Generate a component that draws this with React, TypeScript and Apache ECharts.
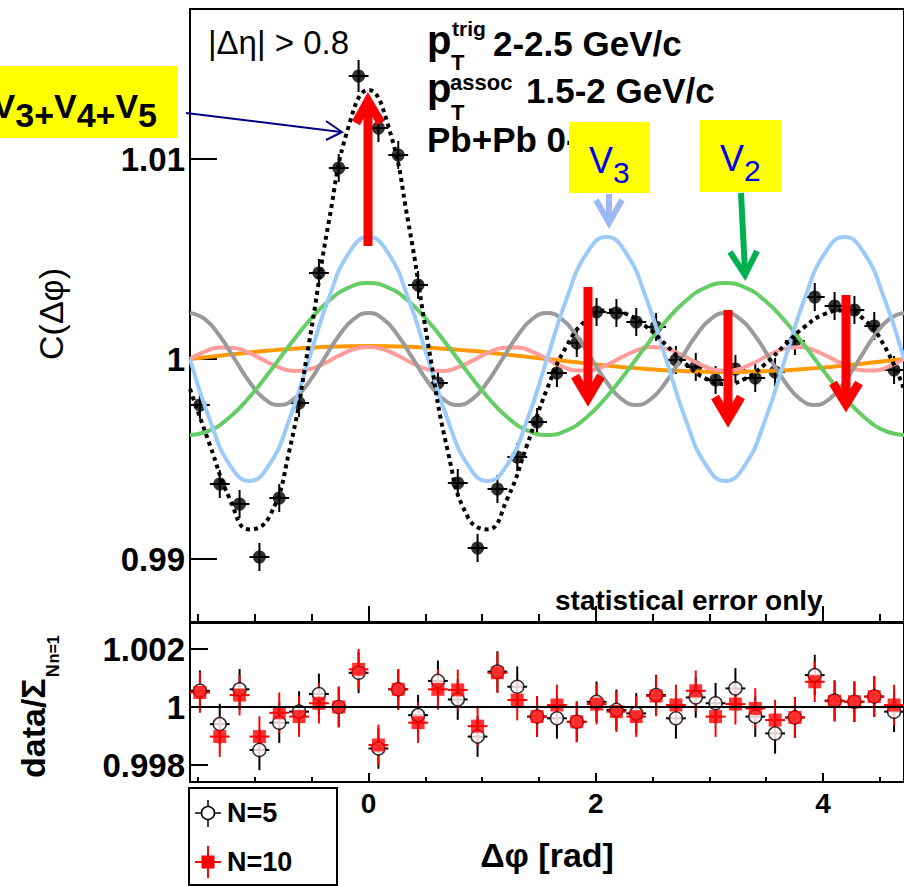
import React, { useEffect, useRef } from "react";
import * as echarts from "echarts";

const FF = '"Liberation Sans", Arial, Helvetica, sans-serif';

// x range (rad) and half bin width
const phiMin = -1.5708;
const phiMax = 4.7124;
const halfBin = 0.0873;

// bin centres (rad)
const binCenters = [
  -1.4835, -1.309, -1.1345, -0.9599, -0.7854, -0.6109, -0.4363, -0.2618, -0.0873,
  0.0873, 0.2618, 0.4363, 0.6109, 0.7854, 0.9599, 1.1345, 1.309, 1.4835,
  1.6581, 1.8326, 2.0071, 2.1817, 2.3562, 2.5307, 2.7053, 2.8798, 3.0543,
  3.2289, 3.4034, 3.5779, 3.7525, 3.927, 4.1015, 4.2761, 4.4506, 4.6251,
];

// C(dphi) data points
const corrData = [
  0.9977, 0.99375, 0.99275, 0.9901, 0.99305, 0.9978, 1.0043, 1.00955, 1.01415,
  1.01155, 1.0102, 1.0037, 0.9988, 0.9938, 0.99055, 0.9935, 0.9951, 0.99685,
  0.9993, 1.0008, 1.00235, 1.0023, 1.00185, 1.0016, 0.99995, 0.9996, 0.99895,
  0.9995, 0.99905, 0.99935, 1.0009, 1.0031, 1.00265, 1.00245, 1.00165, 0.99945,
];
const corrErr = [
  0.0007, 0.0007, 0.0007, 0.0007, 0.0007, 0.0007, 0.0007, 0.0007, 0.0008,
  0.0007, 0.0007, 0.0007, 0.0007, 0.0007, 0.0007, 0.0007, 0.0007, 0.0007,
  0.0007, 0.0007, 0.0007, 0.0007, 0.0007, 0.0007, 0.0007, 0.0007, 0.0007,
  0.0007, 0.0007, 0.0007, 0.0007, 0.0007, 0.0007, 0.0007, 0.0007, 0.0007,
];

// curve sample positions (rad), every 10 degrees from -90 to 270
const curvePhi = [
  -1.5708, -1.3963, -1.2217, -1.0472, -0.8727, -0.6981, -0.5236, -0.3491, -0.1745,
  0, 0.1745, 0.3491, 0.5236, 0.6981, 0.8727, 1.0472, 1.2217, 1.3963, 1.5708,
  1.7453, 1.9199, 2.0944, 2.2689, 2.4435, 2.618, 2.7925, 2.9671, 3.1416,
  3.3161, 3.4907, 3.6652, 3.8397, 4.0143, 4.1888, 4.3633, 4.5379, 4.7124,
];
// finer sample positions (rad), every 7.5 degrees from -90 to 270
const curvePhiFine = [
  -1.5708, -1.4399, -1.309, -1.1781, -1.0472, -0.9163, -0.7854, -0.6545, -0.5236, -0.3927,
  -0.2618, -0.1309, 0, 0.1309, 0.2618, 0.3927, 0.5236, 0.6545, 0.7854, 0.9163,
  1.0472, 1.1781, 1.309, 1.4399, 1.5708, 1.7017, 1.8326, 1.9635, 2.0944, 2.2253,
  2.3562, 2.4871, 2.618, 2.7489, 2.8798, 3.0107, 3.1416, 3.2725, 3.4034, 3.5343,
  3.6652, 3.7961, 3.927, 4.0579, 4.1888, 4.3197, 4.4506, 4.5815, 4.7124,
];

const fitCurve = [
  0.9985, 0.99571, 0.99302, 0.99148, 0.99211, 0.99538, 1.00079, 1.00687, 1.01164,
  1.01345, 1.01164, 1.00687, 1.00079, 0.99538, 0.99211, 0.99148, 0.99302, 0.99571, 0.9985,
  1.00067, 1.00196, 1.00243, 1.00225, 1.00162, 1.00071, 0.99975, 0.99902, 0.99875,
  0.99902, 0.99975, 1.00071, 1.00162, 1.00225, 1.00243, 1.00196, 1.00067, 0.9985,
];
const v1Curve = [
  1.0, 1.00011, 1.00022, 1.00033, 1.00042, 1.0005, 1.00056, 1.00061, 1.00064,
  1.00065, 1.00064, 1.00061, 1.00056, 1.0005, 1.00042, 1.00033, 1.00022, 1.00011, 1.0,
  0.99989, 0.99978, 0.99967, 0.99958, 0.9995, 0.99944, 0.99939, 0.99936, 0.99935,
  0.99936, 0.99939, 0.99944, 0.9995, 0.99958, 0.99967, 0.99978, 0.99989, 1.0,
];
const v2Curve = [
  0.9962, 0.99643, 0.99709, 0.9981, 0.99934, 1.00066, 1.0019, 1.00291, 1.00357,
  1.0038, 1.00357, 1.00291, 1.0019, 1.00066, 0.99934, 0.9981, 0.99709, 0.99643, 0.9962,
  0.99643, 0.99709, 0.9981, 0.99934, 1.00066, 1.0019, 1.00291, 1.00357, 1.0038,
  1.00357, 1.00291, 1.0019, 1.00066, 0.99934, 0.9981, 0.99709, 0.99643, 0.9962,
];
const v3Curve = [
  1.0, 0.99695, 0.99472, 0.9939, 0.99472, 0.99695, 1.0, 1.00305, 1.00528,
  1.0061, 1.00528, 1.00305, 1.0, 0.99695, 0.99472, 0.9939, 0.99472, 0.99695, 1.0,
  1.00305, 1.00528, 1.0061, 1.00528, 1.00305, 1.0, 0.99695, 0.99472, 0.9939,
  0.99472, 0.99695, 1.0, 1.00305, 1.00528, 1.0061, 1.00528, 1.00305, 1.0,
];
// v4 and v5 on the finer grid
const v4Curve = [
  1.0023, 1.00199, 1.00115, 1.0, 0.99885, 0.99801, 0.9977, 0.99801, 0.99885, 1.0, 1.00115, 1.00199,
  1.0023, 1.00199, 1.00115, 1.0, 0.99885, 0.99801, 0.9977, 0.99801, 0.99885, 1.0, 1.00115, 1.00199,
  1.0023, 1.00199, 1.00115, 1.0, 0.99885, 0.99801, 0.9977, 0.99801, 0.99885, 1.0, 1.00115, 1.00199,
  1.0023, 1.00199, 1.00115, 1.0, 0.99885, 0.99801, 0.9977, 0.99801, 0.99885, 1.0, 1.00115, 1.00199,
  1.0023,
];
const v5Curve = [
  1.0, 1.00037, 1.00058, 1.00055, 1.0003, 0.99992, 0.99958, 0.9994, 0.99948, 0.99977,
  1.00016, 1.00048, 1.0006, 1.00048, 1.00016, 0.99977, 0.99948, 0.9994, 0.99958, 0.99992,
  1.0003, 1.00055, 1.00058, 1.00037, 1.0, 0.99963, 0.99942, 0.99945, 0.9997, 1.00008,
  1.00042, 1.0006, 1.00052, 1.00023, 0.99984, 0.99952, 0.9994, 0.99952, 0.99984, 1.00023,
  1.00052, 1.0006, 1.00042, 1.00008, 0.9997, 0.99945, 0.99942, 0.99963, 1.0,
];

// ratio panel
const ratioN5 = [
  1.00056, 0.99941, 1.00061, 0.99852, 0.99946, 0.99984, 1.00045, 1.0, 1.00118,
  0.99857, 1.00061, 0.99972, 1.0009, 1.00026, 0.99898, 1.00122, 1.0007, 0.99967,
  0.99961, 0.99949, 1.00018, 0.9999, 0.99978, 1.00041, 0.99961, 1.00033, 1.00013,
  1.00064, 0.99967, 0.99909, 0.99964, 1.0011, 1.00022, 1.00018, 1.00036, 0.99984,
];
const ratioN10 = [
  1.0005, 0.99898, 1.00041, 0.99898, 0.9998, 0.99967, 1.00013, 1.0, 1.0013,
  0.99869, 1.00061, 0.99946, 1.00061, 1.00059, 0.99934, 1.00118, 1.00024, 0.99967,
  1.00007, 0.99949, 1.0001, 0.99984, 0.99967, 1.00038, 1.00007, 1.00056, 0.99967,
  1.0001, 0.99995, 0.99955, 0.99964, 1.00087, 1.0002, 1.00018, 1.00036, 1.00007,
];
const ratioErr = [
  0.0007, 0.0007, 0.0007, 0.0007, 0.0007, 0.0007, 0.0007, 0.0007, 0.0007,
  0.0007, 0.0007, 0.0007, 0.0007, 0.0007, 0.0007, 0.0007, 0.0007, 0.0007,
  0.0007, 0.0007, 0.0007, 0.0007, 0.0007, 0.0007, 0.0007, 0.0007, 0.0007,
  0.0007, 0.0007, 0.0007, 0.0007, 0.0007, 0.0007, 0.0007, 0.0007, 0.0007,
];

// ticks
const mainYTicks = [0.99, 1, 1.01];
const ratioYTicks = [0.998, 1, 1.002];
const xMajorTicks = [0, 2, 4];
const xMinorTicks = [-1.5, -1, -0.5, 0.5, 1, 1.5, 2.5, 3, 3.5, 4.5];

const pairs = (xs: number[], ys: number[]) => xs.map((x, i) => [x, ys[i]]);
const triples = (xs: number[], ys: number[], es: number[]) => xs.map((x, i) => [x, ys[i], es[i]]);

const errRender = (color: string) => (_p: any, api: any) => {
  const x = api.value(0);
  const y = api.value(1);
  const e = api.value(2);
  const t = api.coord([x, y + e]);
  const b = api.coord([x, y - e]);
  const l = api.coord([x - halfBin, y]);
  const r = api.coord([x + halfBin, y]);
  return {
    type: "group",
    children: [
      { type: "line", shape: { x1: t[0], y1: t[1], x2: b[0], y2: b[1] }, style: { stroke: color, lineWidth: 2 } },
      { type: "line", shape: { x1: l[0], y1: l[1], x2: r[0], y2: r[1] }, style: { stroke: color, lineWidth: 2 } },
    ],
  };
};

const curve = (xs: number[], data: number[], color: string) => ({
  type: "line",
  xAxisIndex: 0,
  yAxisIndex: 0,
  data: pairs(xs, data),
  smooth: true,
  symbol: "none",
  showSymbol: false,
  silent: true,
  lineStyle: { color, width: 4 },
});

const txt = (text: string, x: number, y: number, fontSize: number, extra: any = {}) => ({
  type: "text",
  x,
  y,
  z: 100,
  style: {
    text,
    fontSize,
    fontFamily: FF,
    fontWeight: "bold",
    fill: "#000",
    align: "left",
    textAlign: "left",
    verticalAlign: "middle",
    textVerticalAlign: "middle",
    ...extra,
  },
});

const seg = (x1: number, y1: number, x2: number, y2: number, stroke: string, lineWidth: number, z = 105) => ({
  type: "line",
  z,
  shape: { x1, y1, x2, y2 },
  style: { stroke, lineWidth, lineCap: "butt" },
});
const head = (pts: number[][], stroke: string, lineWidth: number, z = 105) => ({
  type: "polyline",
  z,
  shape: { points: pts },
  style: { stroke, lineWidth, fill: null, lineJoin: "miter", miterLimit: 10, lineCap: "butt" },
});

const yAxisCommon = (ticks: number[], tickLen: number) => ({
  type: "value",
  axisLine: { show: false, onZero: false },
  axisTick: { show: true, inside: true, length: tickLen, customValues: ticks, lineStyle: { color: "#000", width: 2 } },
  axisLabel: {
    show: true,
    customValues: ticks,
    formatter: (v: number) => String(v),
    fontSize: 33,
    fontWeight: "bold",
    fontFamily: FF,
    color: "#000",
    margin: 5,
  },
  splitLine: { show: false },
});

const xAxisBase = (grid: number) => ({
  type: "value",
  gridIndex: grid,
  min: phiMin,
  max: phiMax,
  position: "bottom",
  axisLine: { show: false, onZero: false },
  splitLine: { show: false },
});

export default function App() {
  const ref = useRef<HTMLDivElement>(null);
  useEffect(() => {
    if (!ref.current) return;
    const chart = echarts.init(ref.current, null, { renderer: "svg" });
    const gridW = 719;
    const option: any = {
      animation: false,
      backgroundColor: "#fff",
      textStyle: { fontFamily: FF },
      grid: [
        { left: 190, top: 9, width: gridW, height: 613, show: true, borderColor: "#000", borderWidth: 2, backgroundColor: "transparent" },
        { left: 190, top: 623, width: gridW, height: 159, show: true, borderColor: "#000", borderWidth: 2, backgroundColor: "transparent" },
      ],
      xAxis: [
        {
          ...xAxisBase(0),
          axisTick: { show: true, inside: true, length: 16, customValues: xMajorTicks, lineStyle: { color: "#000", width: 2 } },
          axisLabel: { show: false },
        },
        {
          ...xAxisBase(1),
          axisTick: { show: true, inside: true, length: 9, customValues: xMajorTicks, lineStyle: { color: "#000", width: 2 } },
          axisLabel: {
            show: true, customValues: xMajorTicks, formatter: (v: number) => String(v),
            fontSize: 28, fontWeight: "bold", fontFamily: FF, color: "#000", margin: 7,
          },
          name: "Δφ [rad]",
          nameLocation: "middle",
          nameGap: 56,
          nameTextStyle: { fontSize: 34, fontWeight: "bold", fontFamily: FF, color: "#000" },
        },
        {
          ...xAxisBase(0),
          axisTick: { show: true, inside: true, length: 8, customValues: xMinorTicks, lineStyle: { color: "#000", width: 2 } },
          axisLabel: { show: false },
        },
        {
          ...xAxisBase(1),
          axisTick: { show: true, inside: true, length: 5, customValues: xMinorTicks, lineStyle: { color: "#000", width: 2 } },
          axisLabel: { show: false },
        },
      ],
      yAxis: [
        { ...yAxisCommon(mainYTicks, 27), gridIndex: 0, min: 0.98685, max: 1.0175 },
        { ...yAxisCommon(ratioYTicks, 18), gridIndex: 1, min: 0.997414, max: 1.002897 },
      ],
      series: [
        curve(curvePhi, v1Curve, "#FF9900"),
        curve(curvePhiFine, v5Curve, "#FF9C9C"),
        curve(curvePhiFine, v4Curve, "#9A9A9A"),
        curve(curvePhi, v2Curve, "#66CC66"),
        curve(curvePhi, v3Curve, "#9CCBFA"),
        {
          type: "line", xAxisIndex: 0, yAxisIndex: 0,
          data: pairs(curvePhi, fitCurve), smooth: true, symbol: "none", showSymbol: false, silent: true,
          lineStyle: { color: "#000", width: 4, type: [4, 4] },
        },
        {
          type: "custom", xAxisIndex: 0, yAxisIndex: 0, silent: true,
          data: triples(binCenters, corrData, corrErr), encode: { x: 0, y: 1 },
          renderItem: errRender("#000"),
        },
        {
          type: "scatter", xAxisIndex: 0, yAxisIndex: 0, silent: true,
          data: pairs(binCenters, corrData), symbol: "circle", symbolSize: 13,
          itemStyle: { color: "#000" },
        },
        {
          type: "line", xAxisIndex: 1, yAxisIndex: 1, silent: true,
          data: [[phiMin, 1], [phiMax, 1]], symbol: "none", showSymbol: false,
          lineStyle: { color: "#000", width: 2 },
        },
        {
          type: "custom", xAxisIndex: 1, yAxisIndex: 1, silent: true,
          data: triples(binCenters, ratioN5, ratioErr), encode: { x: 0, y: 1 },
          renderItem: errRender("#000"),
        },
        {
          type: "scatter", xAxisIndex: 1, yAxisIndex: 1, silent: true,
          data: pairs(binCenters, ratioN5), symbol: "circle", symbolSize: 13,
          itemStyle: { color: "#fff", borderColor: "#000", borderWidth: 1.5 },
        },
        {
          type: "custom", xAxisIndex: 1, yAxisIndex: 1, silent: true,
          data: triples(binCenters, ratioN10, ratioErr), encode: { x: 0, y: 1 },
          renderItem: errRender("#FF0000"),
        },
        {
          type: "scatter", xAxisIndex: 1, yAxisIndex: 1, silent: true,
          data: pairs(binCenters, ratioN10), symbol: "rect", symbolSize: 13,
          itemStyle: { color: "#FF0000" },
        },
      ],
      graphic: {
        elements: [
          // axis titles
          {
            type: "text", x: 51, y: 314, rotation: Math.PI / 2, z: 100,
            style: {
              text: "C(Δφ)", fontSize: 34, fontFamily: FF, fill: "#000",
              align: "center", textAlign: "center", verticalAlign: "middle", textVerticalAlign: "middle",
            },
          },
          {
            type: "text", x: 43, y: 778, rotation: Math.PI / 2, z: 100,
            style: {
              text: "{a|data/Σ}{b|N}{c|n=1}", fontFamily: FF, fill: "#000",
              align: "left", textAlign: "left", verticalAlign: "middle", textVerticalAlign: "middle",
              rich: {
                a: { fontSize: 34, fontWeight: "bold", fontFamily: FF, fill: "#000", padding: [0, 0, 20, 0] },
                b: { fontSize: 18, fontWeight: "bold", fontFamily: FF, fill: "#000", padding: [20, 1, 0, 1] },
                c: { fontSize: 16, fontWeight: "bold", fontFamily: FF, fill: "#000", padding: [20, 0, 0, 0] },
              },
            },
          },
          // info texts
          txt("|Δη| > 0.8", 208, 42, 33, { fontWeight: "normal" }),
          txt("p", 427, 40, 40),
          txt("trig", 452, 28, 21),
          txt("T", 451, 62, 22),
          txt("2-2.5 GeV/c", 493, 43, 35),
          txt("p", 427, 88, 40),
          txt("assoc", 450, 82, 22),
          txt("T", 451, 112, 22),
          txt("1.5-2 GeV/c", 526, 90, 35),
          txt("Pb+Pb 0-5%", 427, 139, 35),
          txt("statistical error only", 555, 600, 28),
          // legend box
          { type: "rect", z: 100, shape: { x: 189, y: 788, width: 148, height: 97 }, style: { fill: "#fff", stroke: "#000", lineWidth: 2 } },
          seg(195, 813, 221, 813, "#000", 1.5, 101),
          seg(208, 800, 208, 827, "#000", 1.5, 101),
          { type: "circle", z: 102, shape: { cx: 208, cy: 813, r: 6.5 }, style: { fill: "#fff", stroke: "#000", lineWidth: 1.5 } },
          seg(195, 862, 221, 862, "#FF0000", 2, 101),
          seg(208, 846, 208, 878, "#FF0000", 2, 101),
          { type: "rect", z: 102, shape: { x: 201.5, y: 855.5, width: 13, height: 13 }, style: { fill: "#FF0000" } },
          txt("N=5", 227, 813, 27),
          txt("N=10", 227, 862, 27),
          // red arrows
          seg(368, 246, 368, 104, "#FF0000", 9),
          head([[356, 123], [368, 101], [381, 123]], "#FF0000", 9),
          seg(588, 287, 588, 396, "#FF0000", 9),
          head([[575, 376], [588, 398], [601, 376]], "#FF0000", 9),
          seg(728, 310, 728, 417, "#FF0000", 9),
          head([[715, 397], [728, 419], [741, 397]], "#FF0000", 9),
          seg(846, 295, 846, 402, "#FF0000", 9),
          head([[833, 383], [846, 404], [859, 383]], "#FF0000", 9),
          // v3 / v2 arrows
          seg(609, 194, 609, 220, "#9EB8F7", 6),
          head([[596, 200], [609, 223], [622, 200]], "#9EB8F7", 6),
          seg(741, 193, 745, 272, "#00B050", 6),
          head([[730, 252], [745, 275], [757, 251]], "#00B050", 6),
          // navy arrow
          seg(186, 113, 341, 132, "#000080", 2),
          head([[326, 121], [342, 132], [326, 140]], "#000080", 2),
          // yellow boxes
          { type: "rect", z: 110, shape: { x: -10, y: 66, width: 188, height: 72 }, style: { fill: "#FFFF00" } },
          { type: "rect", z: 110, shape: { x: 569, y: 122, width: 81, height: 71 }, style: { fill: "#FFFF00" } },
          { type: "rect", z: 110, shape: { x: 700, y: 120, width: 81, height: 72 }, style: { fill: "#FFFF00" } },
          {
            type: "text", x: 157, y: 110, z: 111,
            style: {
              text: "{a|V}{b|2+}{a|V}{b|3+}{a|V}{b|4+}{a|V}{b|5}", fontFamily: FF, fill: "#000",
              align: "right", textAlign: "right", verticalAlign: "middle", textVerticalAlign: "middle",
              rich: {
                a: { fontSize: 34, fontWeight: "bold", fontFamily: FF, fill: "#000", padding: [0, 0, 9, 0] },
                b: { fontSize: 34, fontWeight: "bold", fontFamily: FF, fill: "#000", padding: [9, 0, 0, 0] },
              },
            },
          },
          {
            type: "text", x: 589, y: 166, z: 111,
            style: {
              text: "{a|V}{b|3}", fontFamily: FF, fill: "#0000EE",
              align: "left", textAlign: "left", verticalAlign: "middle", textVerticalAlign: "middle",
              rich: {
                a: { fontSize: 36, fontFamily: FF, fill: "#0000EE", padding: [0, 0, 12, 0] },
                b: { fontSize: 30, fontFamily: FF, fill: "#0000EE", padding: [12, 0, 0, 0] },
              },
            },
          },
          {
            type: "text", x: 720, y: 164, z: 111,
            style: {
              text: "{a|V}{b|2}", fontFamily: FF, fill: "#0000EE",
              align: "left", textAlign: "left", verticalAlign: "middle", textVerticalAlign: "middle",
              rich: {
                a: { fontSize: 36, fontFamily: FF, fill: "#0000EE", padding: [0, 0, 12, 0] },
                b: { fontSize: 30, fontFamily: FF, fill: "#0000EE", padding: [12, 0, 0, 0] },
              },
            },
          },
        ],
      },
    };
    chart.setOption(option);
    return () => chart.dispose();
  }, []);
  return (
    <div
      ref={ref}
      style={{ position: "fixed", left: 0, top: 0, width: 904, height: 886, background: "#fff" }}
    />
  );
}
